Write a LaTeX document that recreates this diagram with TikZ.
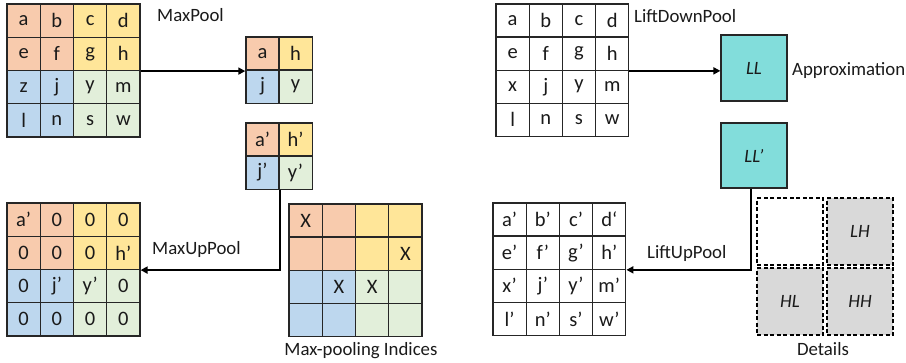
\documentclass[tikz,border=0pt]{standalone}
\usepackage{fontspec}
\setmainfont{Carlito}
\usetikzlibrary{arrows.meta}
\definecolor{qzero}{HTML}{F8CBAD}
\definecolor{qone}{HTML}{FFE699}
\definecolor{qtwo}{HTML}{BDD7EE}
\definecolor{qthree}{HTML}{E2EFDA}
\definecolor{tealbox}{HTML}{82DDDB}
\definecolor{graybox}{HTML}{D9D9D9}
\definecolor{linegray}{HTML}{262626}
\definecolor{txt}{HTML}{1A1A1A}
\begin{document}
\begin{tikzpicture}[x=1pt,y=-1pt,
  cellbox/.style={draw=linegray, line width=1.2pt, minimum size=33.2pt, inner sep=0pt,
    font=\fontsize{20.5}{22}\selectfont, text=txt},
  bigbox/.style={draw=linegray, line width=1.2pt, minimum size=66pt, inner sep=0pt,
    font=\fontsize{18.8}{20}\selectfont\itshape, text=txt},
  detbox/.style={draw=black, dash pattern=on 4pt off 2.5pt, line width=1.1pt,
    minimum width=66pt, minimum height=67pt, inner sep=0pt,
    font=\fontsize{18.8}{20}\selectfont\itshape, text=txt},
  lbl/.style={inner sep=0pt, font=\fontsize{18.8}{20}\selectfont, text=txt},
  arr/.style={draw=black, line width=1.8pt, -{Triangle[length=7pt,width=7pt]}},
  conn/.style={draw=black, line width=1.8pt}]
\useasboundingbox (0,0) rectangle (906,362);

% Grid A: input (coloured)
\foreach \t [count=\i from 0] in {a,b,c,d,e,f,g,h,z,j,y,m,l,n,s,w}{
  \pgfmathtruncatemacro\r{\i/4}
  \pgfmathtruncatemacro\c{mod(\i,4)}
  \pgfmathtruncatemacro\q{2*(\r>1)+(\c>1)}
  \ifcase\q \def\col{qzero}\or \def\col{qone}\or \def\col{qtwo}\else \def\col{qthree}\fi
  \node[cellbox, fill=\col] (A-\r-\c) at ({7+33.25*(\c+0.5)},{4+33.25*(\r+0.5)}) {\t};
}
% Grid B: pooled
\foreach \t [count=\i from 0] in {a,h,j,y}{
  \pgfmathtruncatemacro\r{\i/2}
  \pgfmathtruncatemacro\c{mod(\i,2)}
  \ifcase\i \def\col{qzero}\or \def\col{qone}\or \def\col{qtwo}\else \def\col{qthree}\fi
  \node[cellbox, fill=\col] (B-\r-\c) at ({246+33*(\c+0.5)},{37+33*(\r+0.5)}) {\t};
}
% Grid C: pooled primed
\foreach \t [count=\i from 0] in {a’,h’,j’,y’}{
  \pgfmathtruncatemacro\r{\i/2}
  \pgfmathtruncatemacro\c{mod(\i,2)}
  \ifcase\i \def\col{qzero}\or \def\col{qone}\or \def\col{qtwo}\else \def\col{qthree}\fi
  \node[cellbox, fill=\col] (C-\r-\c) at ({246+33*(\c+0.5)},{123+33*(\r+0.5)}) {\t};
}
% Grid D: unpooled
\foreach \t [count=\i from 0] in {a’,0,0,0,0,0,0,h’,0,j’,y’,0,0,0,0,0}{
  \pgfmathtruncatemacro\r{\i/4}
  \pgfmathtruncatemacro\c{mod(\i,4)}
  \pgfmathtruncatemacro\q{2*(\r>1)+(\c>1)}
  \ifcase\q \def\col{qzero}\or \def\col{qone}\or \def\col{qtwo}\else \def\col{qthree}\fi
  \node[cellbox, fill=\col] (D-\r-\c) at ({7+33.25*(\c+0.5)},{203+33.25*(\r+0.5)}) {\t};
}
% Grid E: indices
\foreach \t [count=\i from 0] in {X,{},{},{},{},{},{},X,{},X,X,{},{},{},{},{}}{
  \pgfmathtruncatemacro\r{\i/4}
  \pgfmathtruncatemacro\c{mod(\i,4)}
  \pgfmathtruncatemacro\q{2*(\r>1)+(\c>1)}
  \ifcase\q \def\col{qzero}\or \def\col{qone}\or \def\col{qtwo}\else \def\col{qthree}\fi
  \node[cellbox, fill=\col] (E-\r-\c) at ({289+33.25*(\c+0.5)},{204+33.1*(\r+0.5)}) {\t};
}
% Grid F: lifting input
\foreach \t [count=\i from 0] in {a,b,c,d,e,f,g,h,x,j,y,m,l,n,s,w}{
  \pgfmathtruncatemacro\r{\i/4}
  \pgfmathtruncatemacro\c{mod(\i,4)}
  \node[cellbox, fill=white] (F-\r-\c) at ({496+33.2*(\c+0.5)},{4+33.1*(\r+0.5)}) {\t};
}
% Grid G: lifting output
\foreach \t [count=\i from 0] in {a’,b’,c’,d‘,e’,f’,g’,h’,x’,j’,y’,m’,l’,n’,s’,w’}{
  \pgfmathtruncatemacro\r{\i/4}
  \pgfmathtruncatemacro\c{mod(\i,4)}
  \node[cellbox, fill=white] (G-\r-\c) at ({493+33.2*(\c+0.5)},{203+33.1*(\r+0.5)}) {\t};
}

% Approximation boxes
\node[bigbox, fill=tealbox] (LL) at (754,68) {LL};
\node[bigbox, fill=tealbox, minimum height=65pt] (LLp) at (754,155.5) {LL’};

% Details
\node[detbox, fill=white] (D00) at (790,231.5) {};
\node[detbox, fill=graybox] (D01) at (860,231.5) {LH};
\node[detbox, fill=graybox] (D10) at (790,301.5) {HL};
\node[detbox, fill=graybox] (D11) at (860,301.5) {HH};

% Labels
\node[lbl, anchor=west] (l1) at (157,15) {MaxPool};
\node[lbl, anchor=west] (l2) at (152,249) {MaxUpPool};
\node[lbl] (l3) at (361,351) {Max-pooling Indices};
\node[lbl, anchor=west] (l4) at (634,16) {LiftDownPool};
\node[lbl, anchor=west] (l5) at (792,71) {Approximation};
\node[lbl, anchor=west] (l6) at (647,253) {LiftUpPool};
\node[lbl] (l7) at (823,349) {Details};

% Connectors
\draw[arr] (A-1-3.south east) -- (A-1-3.south east -| B-0-0.west);
\draw[arr] (C-1-0.south east) -- (C-1-0.south east |- D-1-3.south east) -- (D-1-3.south east);
\draw[arr] (F-1-3.south east) -- (F-1-3.south east -| LL.west);
\draw[arr] ([xshift=-3pt]LLp.south) -- ([xshift=-3pt]LLp.south |- G-1-3.south east) -- (G-1-3.south east);
\end{tikzpicture}
\end{document}
